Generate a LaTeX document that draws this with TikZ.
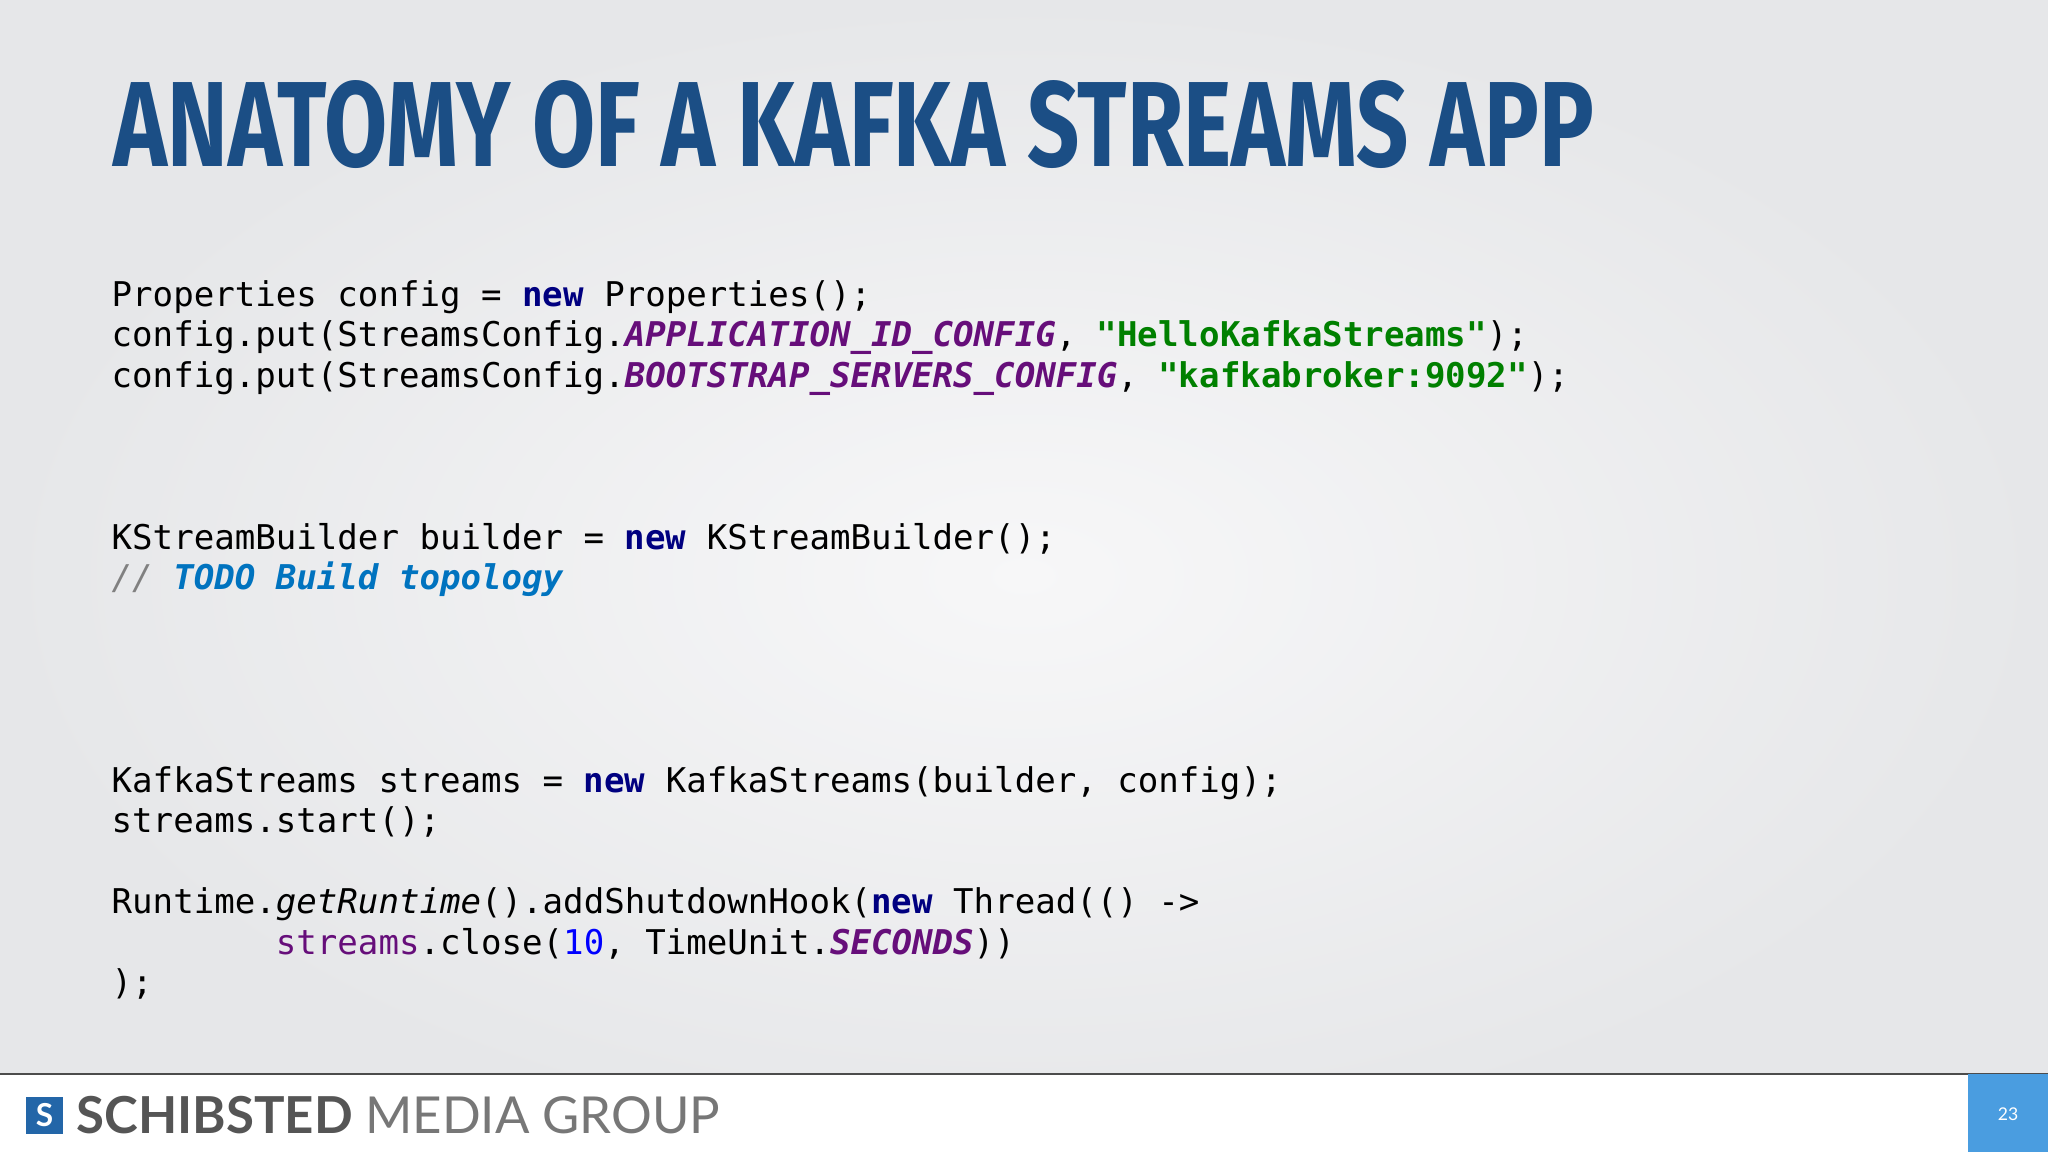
\documentclass[tikz,border=0pt]{standalone}
\usepackage{fontspec}
\setmainfont{Lato}
\setmonofont{DejaVu Sans Mono}
\newfontfamily\titlefont{Fira Sans}
\definecolor{bgc}{HTML}{E6E7E9}
\definecolor{bgl}{HTML}{F7F7F8}
\definecolor{titc}{HTML}{1B4E85}
\definecolor{kw}{HTML}{000080}
\definecolor{pur}{HTML}{660E7A}
\definecolor{grn}{HTML}{008000}
\definecolor{cmt}{HTML}{808080}
\definecolor{todo}{HTML}{0073BF}
\definecolor{num}{HTML}{0000FF}
\definecolor{foot}{HTML}{4A9DE0}
\definecolor{logo}{HTML}{2366A8}
\definecolor{greyt}{HTML}{555555}
\newcommand{\kwd}[1]{\textcolor{kw}{\bfseries #1}}
\newcommand{\purp}[1]{\textcolor{pur}{\bfseries\itshape #1}}
\newcommand{\grn}[1]{\textcolor{grn}{\bfseries #1}}
\tikzset{code/.style={anchor=base west,inner sep=0pt,font=\ttfamily\fontsize{9.7}{11.5}\selectfont}}
\begin{document}
\begin{tikzpicture}[x=1cm,y=1cm]
\useasboundingbox (0,0) rectangle (20.48,11.52);
\shade[inner color=bgl,outer color=bgc] (0,0) rectangle (20.48,11.52);
\node[anchor=base west,inner sep=0pt,text=titc] (title) at (1.13,9.85)
 {\resizebox{14.8cm}{0.86cm}{\titlefont\bfseries ANATOMY OF A KAFKA STREAMS APP}};
\node[code] (l1) at (1.11,8.45) {Properties config = \kwd{new} Properties();};
\node[code] (l2) at (1.11,8.05) {config.put(StreamsConfig.\purp{APPLICATION\_ID\_CONFIG}, \grn{"HelloKafkaStreams"});};
\node[code] (l3) at (1.11,7.64) {config.put(StreamsConfig.\purp{BOOTSTRAP\_SERVERS\_CONFIG}, \grn{"kafkabroker:9092"});};
\node[code] (l4) at (1.11,6.02) {KStreamBuilder builder = \kwd{new} KStreamBuilder();};
\node[code] (l5) at (1.11,5.62) {\textcolor{cmt}{\itshape //} \textcolor{todo}{\bfseries\itshape TODO Build topology}};
\node[code] (l6) at (1.11,3.59) {KafkaStreams streams = \kwd{new} KafkaStreams(builder, config);};
\node[code] (l7) at (1.11,3.19) {streams.start();};
\node[code] (l8) at (1.11,2.38) {Runtime.\textit{getRuntime}().addShutdownHook(\kwd{new} Thread(() ->};
\node[code] (l9) at (1.11,1.97) {\hphantom{Runtime.}\textcolor{pur}{streams}.close(\textcolor{num}{10}, TimeUnit.\purp{SECONDS}))};
\node[code] (l10) at (1.11,1.57) {);};
\fill[white] (0,0) rectangle (20.48,0.78);
\draw[black!70,line width=0.6pt] (0,0.78) -- (20.48,0.78);
\fill[foot] (19.68,0) rectangle (20.48,0.78);
\node[text=white,font=\fontsize{5}{6}\selectfont] (pg) at (20.08,0.38) {23};
\node[fill=logo,minimum size=0.37cm,inner sep=0pt,text=white,font=\bfseries\fontsize{9}{9}\selectfont] (lg) at (0.445,0.365) {S};
\node[anchor=west,inner sep=0pt,text=greyt,font=\fontsize{14.5}{16}\selectfont] (brand) at (0.76,0.37)
 {\bfseries SCHIBSTED \textcolor{greyt!80}{\mdseries MEDIA GROUP}};
\end{tikzpicture}
\end{document}
